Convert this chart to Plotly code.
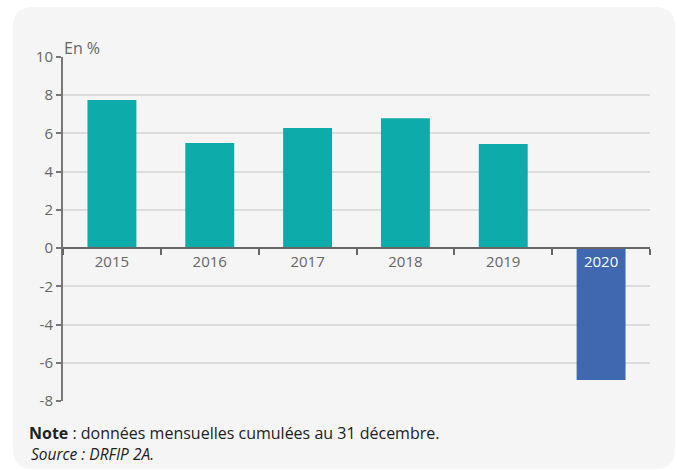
import plotly.graph_objects as go

years = ["2015", "2016", "2017", "2018", "2019", "2020"]
values = [7.75, 5.5, 6.28, 6.8, 5.45, -6.9]
bar_colors = ["#0dabaa", "#0dabaa", "#0dabaa", "#0dabaa", "#0dabaa", "#3f68b0"]
tick_text = ["2015", "2016", "2017", "2018", "2019", "<span style='color:#ffffff'>2020</span>"]
y_ticks = [-8, -6, -4, -2, 0, 2, 4, 6, 8, 10]
y_tick_text = ["-8", "-6", "-4", "-2", "0", "2", "4", "6", "8", "10"]

W, H = 677, 470
L, R, T, B = 63, 650, 57, 401
y_min, y_max = -8, 10


def px(x):
    return (x - L) / (R - L)


def py(y):
    return (B - y) / (B - T)


def rounded_rect(x0, y0, x1, y1, r):
    # path in paper coordinates built from pixel positions
    pts = [
        f"M {px(x0 + r)},{py(y0)}",
        f"L {px(x1 - r)},{py(y0)}",
        f"Q {px(x1)},{py(y0)} {px(x1)},{py(y0 + r)}",
        f"L {px(x1)},{py(y1 - r)}",
        f"Q {px(x1)},{py(y1)} {px(x1 - r)},{py(y1)}",
        f"L {px(x0 + r)},{py(y1)}",
        f"Q {px(x0)},{py(y1)} {px(x0)},{py(y1 - r)}",
        f"L {px(x0)},{py(y0 + r)}",
        f"Q {px(x0)},{py(y0)} {px(x0 + r)},{py(y0)}",
        "Z",
    ]
    return " ".join(pts)


fig = go.Figure()
fig.add_trace(go.Bar(x=years, y=values, marker=dict(color=bar_colors, line=dict(width=0)),
                     hoverinfo="x+y"))

fig.update_layout(
    width=W, height=H,
    margin=dict(l=L, r=W - R, t=T, b=H - B, pad=0),
    paper_bgcolor="#ffffff",
    plot_bgcolor="rgba(0,0,0,0)",
    font=dict(family="Open Sans", color="#666666", size=14),
    bargap=0.5,
    showlegend=False,
    shapes=[dict(type="path", xref="paper", yref="paper", layer="below",
                 path=rounded_rect(13, 7, 675, 469, 20),
                 fillcolor="#f5f5f5", line=dict(width=0))],
    annotations=[
        dict(text="En %", xref="paper", yref="paper", x=px(62), y=py(35),
             xanchor="left", yanchor="top", showarrow=False,
             font=dict(size=16, color="#666666")),
        dict(text="<b>Note</b> : données mensuelles cumulées au 31 décembre.",
             xref="paper", yref="paper", x=px(27), y=py(420),
             xanchor="left", yanchor="top", showarrow=False,
             font=dict(size=16, color="#222222")),
        dict(text="<i>Source : DRFIP 2A.</i>",
             xref="paper", yref="paper", x=px(29), y=py(441),
             xanchor="left", yanchor="top", showarrow=False,
             font=dict(size=15.5, color="#222222")),
    ],
)

fig.update_xaxes(
    type="category", tickvals=years, ticktext=tick_text,
    anchor="free", position=(0 - y_min) / (y_max - y_min),
    showline=True, linecolor="#666666", linewidth=2,
    ticks="outside", tickson="boundaries", ticklen=6, tickcolor="#666666", tickwidth=2,
    showgrid=False, zeroline=False,
    tickfont=dict(size=15, color="#666666"),
)
fig.update_yaxes(
    range=[y_min, y_max], tickvals=y_ticks, ticktext=y_tick_text,
    showline=True, linecolor="#777777", linewidth=2,
    ticks="outside", ticklen=5, tickcolor="#777777", tickwidth=2,
    showgrid=True, gridcolor="#dcdcdc", gridwidth=1.5,
    zeroline=False,
    tickfont=dict(size=15, color="#666666"),
)

fig.write_html("out.html", config={"displayModeBar": False},
               post_script="document.body.style.margin='0';")
